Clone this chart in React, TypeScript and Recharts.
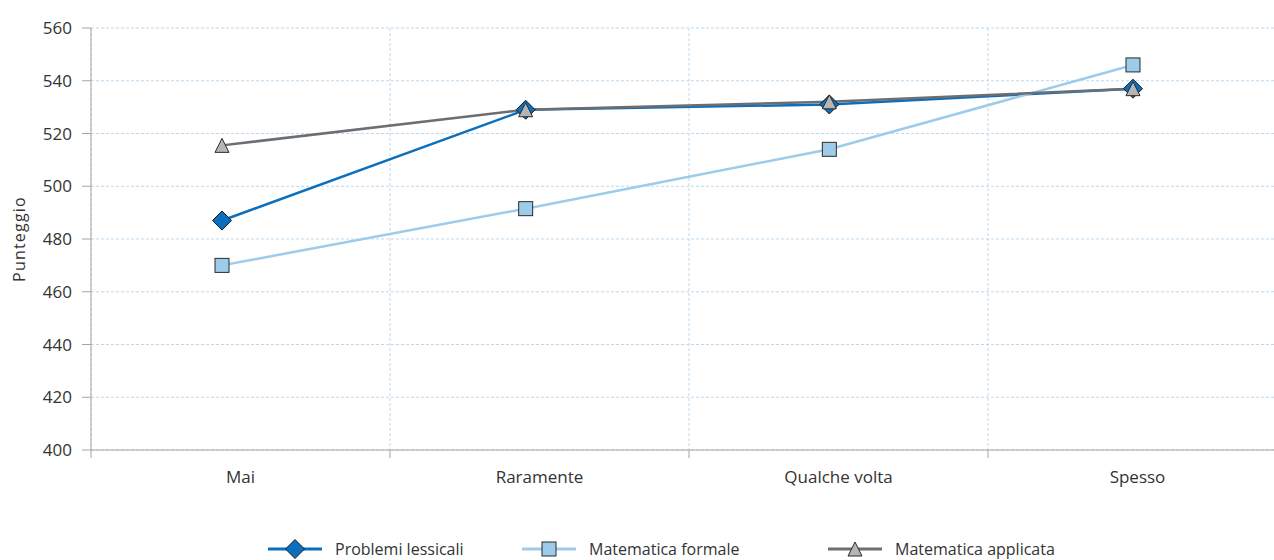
import React from 'react';
import { LineChart, Line, XAxis, YAxis, CartesianGrid, Legend } from 'recharts';

const categories = ['Mai', 'Raramente', 'Qualche volta', 'Spesso'];
const problemiLessicali = [487, 529, 531, 537];
const matematicaFormale = [470, 491.5, 514, 546];
const matematicaApplicata = [515.5, 529, 532, 537];
const yTicks = [400, 420, 440, 460, 480, 500, 520, 540, 560];
const boundaryTicks = [0, 1, 2, 3, 4];
const centerTicks = [0.5, 1.5, 2.5, 3.5];

const data = categories.map((name, i) => ({
  name,
  pos: i,
  problemi: problemiLessicali[i],
  formale: matematicaFormale[i],
  applicata: matematicaApplicata[i],
}));

const FONT = '"Open Sans", "Noto Sans", sans-serif';
const TEXT = '#333333';
const AXIS = '#a6a6a6';
const GRID = '#bcd9ef';

type Shape = 'diamond' | 'square' | 'triangle';

const series: { key: string; name: string; color: string; fill: string; shape: Shape; itemWidth: number }[] = [
  { key: 'problemi', name: 'Problemi lessicali', color: '#0a70be', fill: '#0a70be', shape: 'diamond', itemWidth: 254 },
  { key: 'formale', name: 'Matematica formale', color: '#9dcbea', fill: '#9dcbea', shape: 'square', itemWidth: 306 },
  { key: 'applicata', name: 'Matematica applicata', color: '#6d6e71', fill: '#b5b5b5', shape: 'triangle', itemWidth: 260 },
];

const marker = (shape: Shape, cx: number, cy: number, fill: string) => {
  if (shape === 'diamond') {
    const r = 9.5;
    return <path d={`M${cx},${cy - r}L${cx + r},${cy}L${cx},${cy + r}L${cx - r},${cy}Z`} fill={fill} stroke="#1a1a1a" strokeWidth={1} />;
  }
  if (shape === 'square') {
    const r = 7;
    return <rect x={cx - r} y={cy - r} width={2 * r} height={2 * r} fill={fill} stroke="#2b2b2b" strokeWidth={1} />;
  }
  const r = 7;
  return <path d={`M${cx},${cy - r}L${cx + r},${cy + r}L${cx - r},${cy + r}Z`} fill={fill} stroke="#2b2b2b" strokeWidth={1} />;
};

const makeDot = (shape: Shape, fill: string) => (props: any) => {
  const { cx, cy, index } = props;
  if (cx == null || cy == null) return <g key={index} />;
  return <g key={index}>{marker(shape, cx, cy, fill)}</g>;
};

const YLabel = (props: any) => {
  const { viewBox } = props;
  const x = viewBox.x + 19;
  const y = viewBox.y + viewBox.height / 2;
  return (
    <text x={x} y={y} transform={`rotate(-90, ${x}, ${y})`} textAnchor="middle" dominantBaseline="central"
      fontFamily={FONT} fontSize={16} letterSpacing={1.2} fill={TEXT}>
      Punteggio
    </text>
  );
};

const LegendContent = () => (
  <div style={{ display: 'flex', alignItems: 'center', paddingLeft: 268, fontFamily: FONT, fontSize: 16, color: TEXT, height: 22 }}>
    {series.map((s) => (
      <div key={s.key} style={{ display: 'flex', alignItems: 'center', width: s.itemWidth, whiteSpace: 'nowrap' }}>
        <svg width={54} height={22} style={{ marginRight: 13, flex: 'none' }}>
          <line x1={0} y1={11} x2={54} y2={11} stroke={s.color} strokeWidth={3} />
          {marker(s.shape, 27, 11, s.fill)}
        </svg>
        <span>{s.name}</span>
      </div>
    ))}
  </div>
);

export default function App() {
  return (
    <div style={{ position: 'absolute', left: 0, top: 0, width: 1274, height: 560, overflow: 'hidden', background: '#fff' }}>
      <LineChart width={1290} height={560} data={data} margin={{ top: 28, right: 3, left: 0, bottom: 0 }}>
        <CartesianGrid xAxisId="grid" stroke={GRID} strokeDasharray="3 2" />
        <XAxis xAxisId="grid" dataKey="pos" type="number" domain={[0, 4]} allowDataOverflow ticks={boundaryTicks} interval={0}
          height={8} tickSize={8} tickFormatter={() => ''} stroke={AXIS} axisLine={{ stroke: AXIS }} tickLine={{ stroke: AXIS }} />
        <XAxis xAxisId="lbl" dataKey="pos" type="number" domain={[0, 4]} allowDataOverflow ticks={centerTicks} interval={0}
          height={80} tickSize={0} tickMargin={13} axisLine={false} tickLine={false}
          tickFormatter={(v: number) => categories[Math.floor(v)]}
          tick={{ fontFamily: FONT, fontSize: 17, fill: TEXT }} />
        <XAxis xAxisId="pts" dataKey="name" type="category" hide padding={{ left: 131, right: 154 }} />
        <YAxis domain={[400, 560]} ticks={yTicks} interval={0} width={91} tickSize={9} tickMargin={10}
          stroke={AXIS} tick={{ fontFamily: FONT, fontSize: 17, fill: TEXT }} label={<YLabel />} />
        <Legend verticalAlign="bottom" height={22} content={<LegendContent />} />
        {series.map((s) => (
          <Line key={s.key} xAxisId="pts" dataKey={s.key} name={s.name} stroke={s.color} strokeWidth={2.5}
            dot={makeDot(s.shape, s.fill)} activeDot={false} isAnimationActive={false} />
        ))}
      </LineChart>
    </div>
  );
}
